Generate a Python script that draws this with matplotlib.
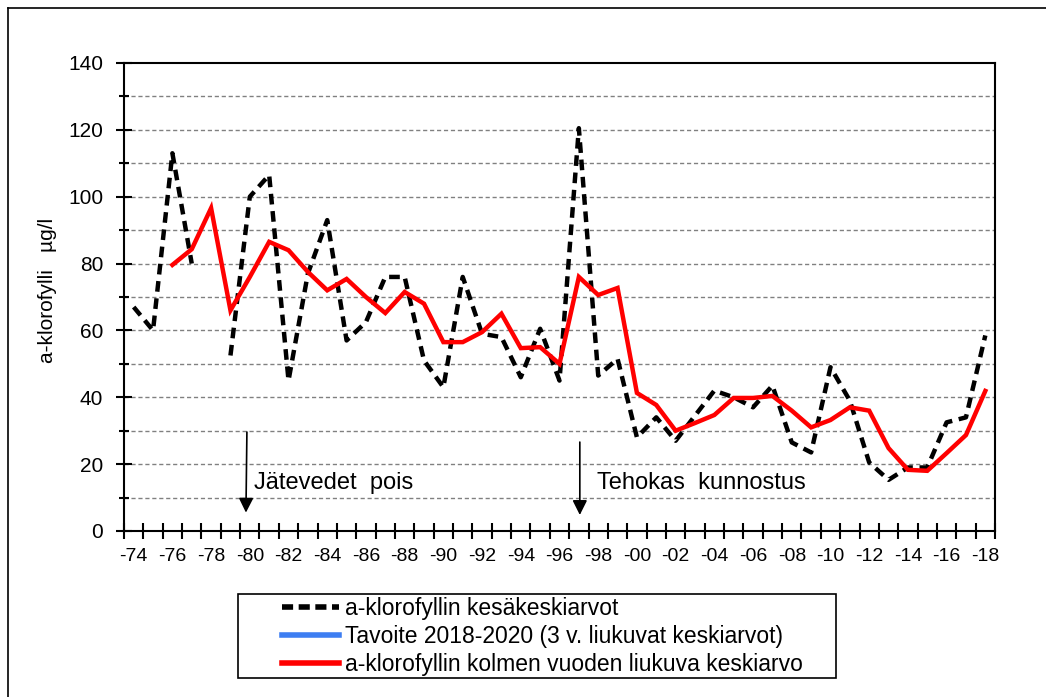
import numpy as np
import matplotlib
matplotlib.use("Agg")
import matplotlib.pyplot as plt
from matplotlib.lines import Line2D
from matplotlib.patches import Rectangle

plt.rcParams['font.family'] = ['Liberation Sans', 'DejaVu Sans']

years = list(range(1974, 2019))

# a-klorofyllin kesakeskiarvot (1978 puuttuu)
summer = [67, 60, 113, 80, np.nan, 52.5, 100, 106.5, 45, 77,
          93, 57, 62.5, 76, 76, 51, 43, 76, 59, 58,
          46, 60.5, 45, 120.5, 46.5, 51.5, 28, 34, 27, 34.5,
          42, 40, 37, 43.5, 26.5, 23.5, 49, 39, 20.5, 15.3,
          19, 19, 32.5, 34, 58.5]

# kolmen vuoden liukuva keskiarvo, alkaa 1976
moving = [np.nan, np.nan,
          79.6, 84.3, 96.6, 66, 76, 86.5, 84, 77.5, 72, 75.4,
          70, 65.2, 71.5, 68, 56.5, 56.5, 59.5, 65, 54.7, 55,
          50, 76, 70.6, 72.7, 41.3, 37.7, 30, 32.3, 34.7, 39.8,
          39.8, 40.4, 36, 31, 33.2, 37, 36, 24.8, 18.3, 18,
          23.3, 28.7, 41.9]

tick_labels = ["-%02d" % (y % 100) for y in years[::2]]

label_summer = "a-klorofyllin kesäkeskiarvot"
label_target = "Tavoite 2018-2020 (3 v. liukuvat keskiarvot)"
label_moving = "a-klorofyllin kolmen vuoden liukuva keskiarvo"

x = np.arange(len(years))

fig = plt.figure(figsize=(10.46, 6.97), dpi=100)
ax = fig.add_axes([124/1046, 1 - 531/697, (995-124)/1046, (531-63)/697])

# gridlines
for g in range(10, 140, 10):
    ax.axhline(g, color='#808080', lw=1, dashes=(3, 2), zorder=1)

ax.plot(x, summer, color='black', lw=3.2, dashes=(2.4, 1.5),
        dash_capstyle='butt', zorder=3)
ax.plot(x, moving, color='#ff0000', lw=3.2, solid_joinstyle='miter', zorder=4)

ax.set_xlim(-0.5, len(years) - 0.5)
ax.set_ylim(0, 140)

ax.set_yticks(range(0, 141, 20))
ax.set_yticks(range(10, 140, 20), minor=True)
ax.tick_params(axis='y', which='major', direction='inout', length=12, width=1.5,
               labelsize=15, pad=9)
ax.tick_params(axis='y', which='minor', direction='inout', length=7, width=1.5)

ax.set_xticks(np.arange(-0.5, len(years), 1))
ax.set_xticklabels([])
ax.set_xticks(x[::2], minor=True)
ax.set_xticklabels(tick_labels, minor=True)
ax.tick_params(axis='x', which='major', direction='inout', length=12, width=1.5)
ax.tick_params(axis='x', which='minor', length=0, labelsize=14, pad=12)

for s in ax.spines.values():
    s.set_linewidth(1.5)

# arrows and texts
ax.annotate("", xy=(5.8, 5.5), xytext=(5.85, 29.6),
            arrowprops=dict(arrowstyle='-|>', mutation_scale=22, lw=1.2,
                            color='black', shrinkA=0, shrinkB=0))
ax.text(6.2, 14.4, "Jätevedet  pois", fontsize=17, va='center', ha='left')
ax.annotate("", xy=(23.05, 4.8), xytext=(23.05, 26.6),
            arrowprops=dict(arrowstyle='-|>', mutation_scale=22, lw=1.2,
                            color='black', shrinkA=0, shrinkB=0))
ax.text(23.95, 14.4, "Tehokas  kunnostus", fontsize=17, va='center', ha='left')

fig.text(48/1046, 1 - 290/697, "a-klorofylli   µg/l", rotation=90,
         fontsize=15, ha='center', va='center')

# legend
handles = [Line2D([], [], color='black', lw=4, dashes=(2, 1)),
           Line2D([], [], color='#3d7ef2', lw=4),
           Line2D([], [], color='#ff0000', lw=4)]
fig.legend(handles, [label_summer, label_target, label_moving],
           loc='upper left', bbox_to_anchor=(266/1046, 1 - 581/697),
           frameon=False, fontsize=16.5, handlelength=2.5, handletextpad=0.25,
           labelspacing=0.22, borderpad=0.2)
fig.patches.append(Rectangle((238/1046, 1 - 678/697), (836-238)/1046, 84/697,
                             transform=fig.transFigure, fill=False,
                             edgecolor='black', lw=1.2))

# outer frame (left and top visible)
fig.add_artist(Line2D([8/1046, 8/1046], [0, 1 - 8/697], color='black', lw=1.2,
                      transform=fig.transFigure))
fig.add_artist(Line2D([8/1046, 1], [1 - 8/697, 1 - 8/697], color='black', lw=1.2,
                      transform=fig.transFigure))

fig.savefig("out.png", dpi=100)
